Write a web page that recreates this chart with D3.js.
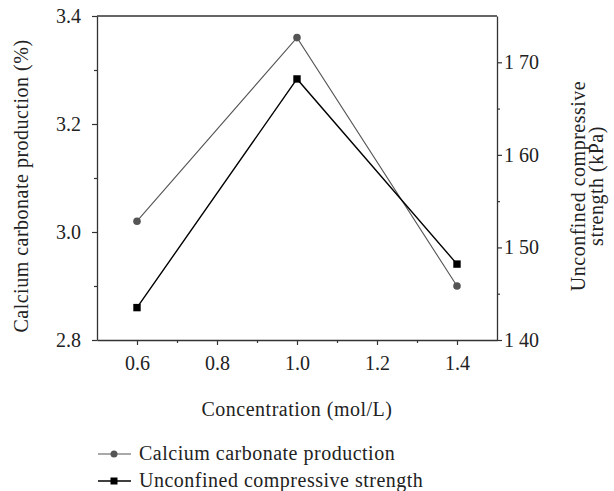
<!DOCTYPE html>
<html>
<head>
<meta charset="utf-8">
<script src="https://cdn.jsdelivr.net/npm/d3@7"></script>
<style>
  body { margin: 0; background: #fff; }
  svg { display: block; }
  svg text { font-family: "Liberation Serif", "Times New Roman", serif; letter-spacing: 0.5px; }
</style>
</head>
<body>
<svg id="chart"></svg>
<script>
const width = 614;
const height = 491;

// data
const concentration = [0.6, 1.0, 1.4];
const caco3 = [3.02, 3.36, 2.90];
const ucs = [143.5, 168.2, 148.2];

const xTicks = [0.6, 0.8, 1.0, 1.2, 1.4];
const xMinor = [0.7, 0.9, 1.1, 1.3];
const leftTicks = [2.8, 3.0, 3.2, 3.4];
const leftMinor = [2.9, 3.1, 3.3];
const rightTicks = [140, 150, 160, 170];
const rightMinor = [145, 155, 165];
const rightTickLabels = ["1 40", "1 50", "1 60", "1 70"];

const margin = {top: 16, right: 117, bottom: 151, left: 97};
const axisColor = "#333";
const textColor = "#222";
const fontSize = "20px";

const svg = d3.select('#chart').attr('width', width).attr('height', height);

const x = d3.scaleLinear().domain([0.5, 1.5]).range([margin.left, width - margin.right]);
const yL = d3.scaleLinear().domain([2.8, 3.4]).range([height - margin.bottom, margin.top]);
const yR = d3.scaleLinear().domain([140, 175]).range([height - margin.bottom, margin.top]);

function styleAxis(g) {
  g.attr('font-family', null).attr('font-size', null);
  g.select('.domain').attr('stroke', axisColor).attr('stroke-width', 1.3);
  g.selectAll('.tick line').attr('stroke', axisColor).attr('stroke-width', 1.2);
  g.selectAll('.tick text').attr('fill', textColor).style('font-size', fontSize)
      .style('font-family', '"Liberation Serif", "Times New Roman", serif')
      .style('letter-spacing', '0px');
}

// minor ticks first
svg.append('g')
    .attr('transform', `translate(0,${height - margin.bottom})`)
    .call(d3.axisBottom(x).tickValues(xMinor).tickSize(3).tickFormat(''))
    .call(g => { styleAxis(g); g.select('.domain').remove(); });
svg.append('g')
    .attr('transform', `translate(${margin.left},0)`)
    .call(d3.axisLeft(yL).tickValues(leftMinor).tickSize(3).tickFormat(''))
    .call(g => { styleAxis(g); g.select('.domain').remove(); });
svg.append('g')
    .attr('transform', `translate(${width - margin.right},0)`)
    .call(d3.axisRight(yR).tickValues(rightMinor).tickSize(3).tickFormat(''))
    .call(g => { styleAxis(g); g.select('.domain').remove(); });

// major axes
svg.append('g')
    .attr('transform', `translate(0,${height - margin.bottom})`)
    .call(d3.axisBottom(x).tickValues(xTicks).tickSize(5).tickSizeOuter(0).tickPadding(11).tickFormat(d3.format('.1f')))
    .call(styleAxis);
svg.append('g')
    .attr('transform', `translate(${margin.left},0)`)
    .call(d3.axisLeft(yL).tickValues(leftTicks).tickSize(5).tickSizeOuter(0).tickPadding(11).tickFormat(d3.format('.1f')))
    .call(styleAxis);
svg.append('g')
    .attr('transform', `translate(${width - margin.right},0)`)
    .call(d3.axisRight(yR).tickValues(rightTicks).tickSize(5).tickSizeOuter(0).tickPadding(2)
      .tickFormat((d, i) => rightTickLabels[i]))
    .call(styleAxis);

// top frame line
svg.append('line')
    .attr('x1', margin.left).attr('x2', width - margin.right)
    .attr('y1', margin.top).attr('y2', margin.top)
    .attr('stroke', axisColor).attr('stroke-width', 1.3);

// series
const ptsCa = concentration.map((c, i) => [x(c), yL(caco3[i])]);
const ptsU = concentration.map((c, i) => [x(c), yR(ucs[i])]);

svg.append('path')
    .attr('d', d3.line()(ptsCa))
    .attr('fill', 'none').attr('stroke', '#555').attr('stroke-width', 1.1);
svg.append('path')
    .attr('d', d3.line()(ptsU))
    .attr('fill', 'none').attr('stroke', '#000').attr('stroke-width', 1.4);

svg.selectAll('.ca').data(ptsCa).enter().append('circle')
    .attr('cx', d => d[0]).attr('cy', d => d[1]).attr('r', 3.8).attr('fill', '#555');
svg.selectAll('.uc').data(ptsU).enter().append('rect')
    .attr('x', d => d[0] - 3.7).attr('y', d => d[1] - 3.7)
    .attr('width', 7.4).attr('height', 7.4).attr('fill', '#000');

// axis titles
svg.append('text')
    .attr('x', (margin.left + width - margin.right) / 2).attr('y', 416)
    .attr('text-anchor', 'middle').style('font-size', fontSize).attr('fill', textColor)
    .text('Concentration (mol/L)');

svg.append('text')
    .attr('transform', 'translate(28,186) rotate(-90)')
    .attr('text-anchor', 'middle').style('font-size', fontSize).attr('fill', textColor)
    .text('Calcium carbonate production (%)');

const rt = svg.append('text')
    .attr('transform', 'translate(585,186) rotate(-90)')
    .attr('text-anchor', 'middle').style('font-size', fontSize).attr('fill', textColor);
rt.append('tspan').attr('x', 0).attr('dy', 0).text('Unconfined compressive');
rt.append('tspan').attr('x', 0).attr('dy', 18).text('strength (kPa)');

// legend
const legend = [
  {label: 'Calcium carbonate production', color: '#555', shape: 'circle', y: 454},
  {label: 'Unconfined compressive strength', color: '#000', shape: 'square', y: 481}
];
legend.forEach(l => {
  svg.append('line').attr('x1', 98).attr('x2', 131).attr('y1', l.y).attr('y2', l.y)
      .attr('stroke', l.color).attr('stroke-width', l.shape === 'circle' ? 1.1 : 1.4);
  if (l.shape === 'circle') {
    svg.append('circle').attr('cx', 114).attr('cy', l.y).attr('r', 3.5).attr('fill', l.color);
  } else {
    svg.append('rect').attr('x', 110.5).attr('y', l.y - 3.5).attr('width', 7).attr('height', 7).attr('fill', l.color);
  }
  svg.append('text').attr('x', 139).attr('y', l.y + 6)
      .style('font-size', fontSize).attr('fill', textColor).text(l.label);
});
</script>
</body>
</html>
